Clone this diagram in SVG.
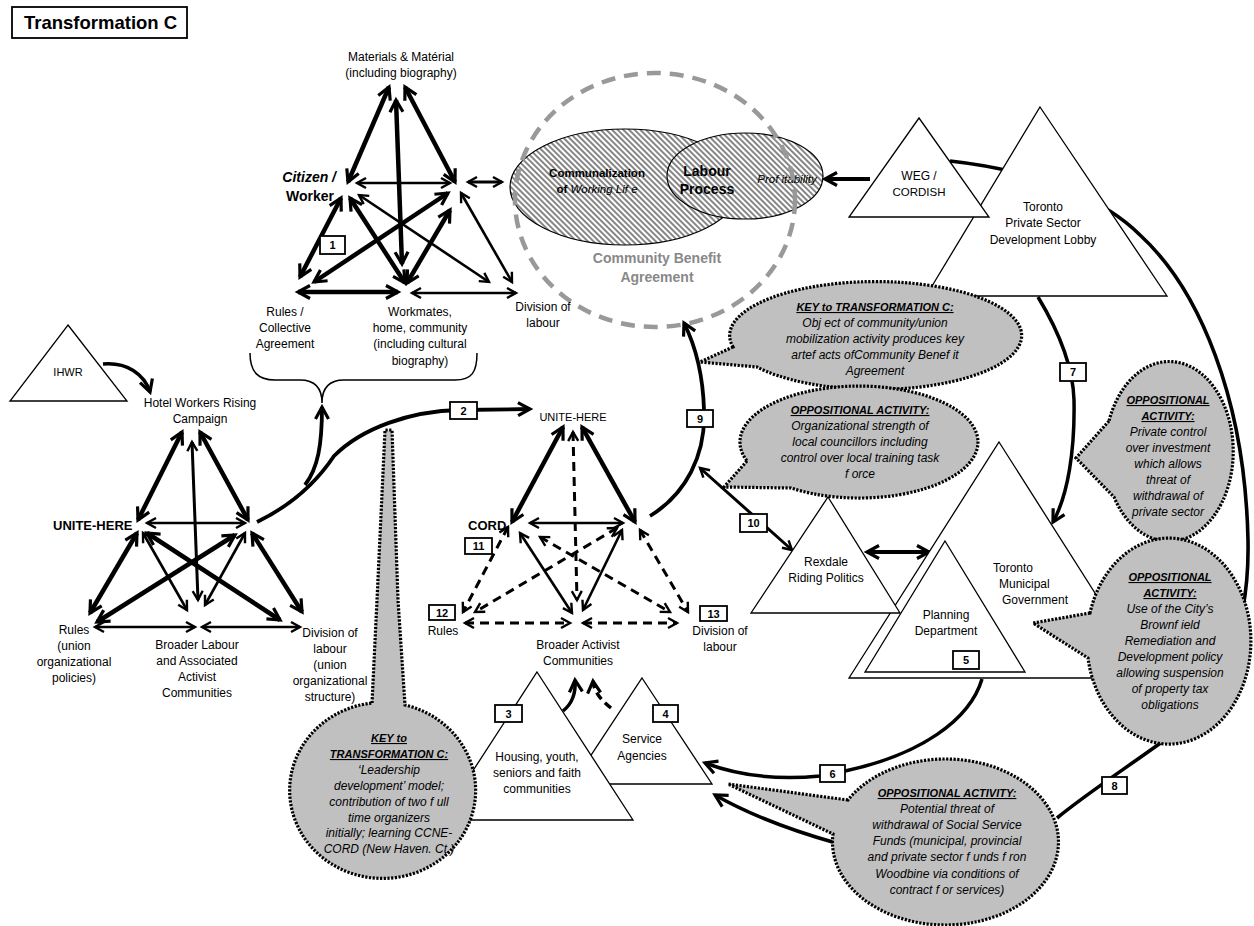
<svg xmlns="http://www.w3.org/2000/svg" width="1254" height="926" viewBox="0 0 1254 926">
<defs>
<style>
text{font-family:'Liberation Sans',Arial,sans-serif;font-size:12px;fill:#000}
.c{text-anchor:middle}
.e{text-anchor:end}
.b{font-weight:bold}
.i{font-style:italic}
.n{font-weight:normal}
.f11{font-size:11px}
.f115{font-size:11.5px}
.f13{font-size:13px}
.f14{font-size:14px}
.f18{font-size:18.5px}
.g{fill:#888}
.h{font-weight:bold;font-style:italic;text-decoration:underline;font-size:11px}
.tri{fill:#fff;stroke:#000;stroke-width:1.3}
.t{fill:none;stroke:#000;stroke-width:4.5;marker-start:url(#aT);marker-end:url(#aT)}
.m{fill:none;stroke:#000;stroke-width:2.6;marker-start:url(#aM);marker-end:url(#aM)}
.d{fill:none;stroke:#000;stroke-width:3;stroke-dasharray:9 6;marker-start:url(#aM);marker-end:url(#aM)}
.ce{fill:none;stroke:#000;stroke-width:3.8;marker-end:url(#aT)}
.cv{fill:none;stroke:#000;stroke-width:3.6}
.bub{fill:#c0c0c0;stroke:#000;stroke-width:3.2;stroke-dasharray:2.2 1.5}
.nb rect{fill:#fff;stroke:#000;stroke-width:1.8}
.nb text{font-weight:bold;font-size:11px;text-anchor:middle}
.hat{fill:url(#hatch);stroke:#000;stroke-width:1.2}
</style>
<marker id="aT" viewBox="0 0 16 16" refX="14" refY="8" markerWidth="16" markerHeight="16" markerUnits="userSpaceOnUse" orient="auto-start-reverse" overflow="visible">
<path d="M2,1.5 L14,8 L2,14.5" fill="none" stroke="#000" stroke-width="3.2"/>
</marker>
<marker id="aM" viewBox="0 0 12 12" refX="10.5" refY="6" markerWidth="12" markerHeight="12" markerUnits="userSpaceOnUse" orient="auto-start-reverse" overflow="visible">
<path d="M1.5,1 L10.5,6 L1.5,11" fill="none" stroke="#000" stroke-width="2.4"/>
</marker>
<pattern id="hatch" width="4" height="4" patternUnits="userSpaceOnUse" patternTransform="rotate(-45)">
<rect width="4" height="4" fill="#fff"/>
<line x1="1" y1="0" x2="1" y2="4" stroke="#222" stroke-width="1.1"/>
</pattern>
</defs>
<rect width="1254" height="926" fill="#fff"/>

<g id="title">
<rect x="12" y="7" width="175" height="31" fill="#fff" stroke="#000" stroke-width="1.8"/>
<text x="24" y="29" class="b f18">Transformation C</text>
</g>

<g id="cba">
<ellipse class="hat" cx="625" cy="187" rx="115" ry="58"/>
<ellipse class="hat" cx="745" cy="176" rx="78" ry="43"/>
<text x="597" y="177" class="c b f115">Communalization</text>
<text x="597" y="193" class="c b f115">of <tspan class="i n">Working Lif e</tspan></text>
<text x="707" y="176" class="c b f14">Labour</text>
<text x="707" y="194" class="c b f14">Process</text>
<text x="787" y="183" class="c i f115">Prof itability</text>
<ellipse cx="655" cy="200" rx="140" ry="127" fill="none" stroke="#999" stroke-width="4.5" stroke-dasharray="14 9"/>
<text x="657" y="263" class="c b f14 g">Community Benefit</text>
<text x="657" y="282" class="c b f14 g">Agreement</text>
</g>

<g id="connectors">
<path class="t" d="M389,87 L348,182"/>
<path class="t" d="M405,87 L455,182"/>
<path class="t" d="M396,100 L402,264"/>
<path class="m" d="M357,183 L450,183"/>
<path class="t" d="M341,198 L300,277"/>
<path class="t" d="M350,198 L405,283"/>
<path class="m" d="M359,195 L489,282"/>
<path class="t" d="M448,193 L314,282"/>
<path class="t" d="M450,210 L407,283"/>
<path class="m" d="M461,193 L512,282"/>
<path class="t" d="M298,292 L398,292"/>
<path class="m" d="M412,293 L516,293"/>
<path class="m" d="M468,182 L502,182" style="stroke-width:3"/>
<path class="t" d="M182,432 L138,520"/>
<path class="t" d="M200,432 L248,520"/>
<path class="m" d="M192,442 L198,600" style="stroke-width:3"/>
<path class="m" d="M147,523 L245,523"/>
<path class="t" d="M137,533 L90,613"/>
<path class="m" d="M143,533 L187,610"/>
<path class="t" d="M147,533 L280,620"/>
<path class="t" d="M235,535 L97,622"/>
<path class="m" d="M245,533 L205,605"/>
<path class="t" d="M252,533 L302,612"/>
<path class="m" d="M95,627 L195,627"/>
<path class="m" d="M202,627 L300,627"/>
<path class="t" d="M563,427 L512,522"/>
<path class="t" d="M582,427 L635,522"/>
<path class="d" d="M573,432 L577,600"/>
<path class="m" d="M530,523 L623,523"/>
<path class="d" d="M508,527 L463,612"/>
<path class="m" d="M520,533 L572,613"/>
<path class="d" d="M540,537 L670,612"/>
<path class="d" d="M617,528 L475,612"/>
<path class="m" d="M622,530 L583,610"/>
<path class="d" d="M640,530 L688,612"/>
<path class="d" d="M465,623 L570,623"/>
<path class="d" d="M583,623 L677,623"/>
<path class="ce" d="M103,364 C127,362 144,374 150,392" style="stroke-width:3.5"/>
<path class="ce" d="M257,522 C292,505 318,480 334,456 C362,428 410,411 460,410 L530,409"/>
<path class="ce" d="M305,485 C318,468 322,445 322,407"/>
<path class="ce" d="M650,516 C686,494 706,455 704,410 C703,375 696,347 684,323"/>
<path class="m" d="M700,468 L792,550" style="stroke-width:3"/>
<path class="t" d="M867,552 L929,552" style="stroke-width:4"/>
<path class="ce" d="M1038,297 C1058,330 1073,365 1074,400 C1075,450 1068,495 1053,522" style="stroke-width:3.5"/>
<path class="cv" d="M950,161 C1050,172 1110,205 1140,235 C1200,290 1245,400 1248,540 C1250,640 1215,705 1162,742 C1120,772 1085,795 1057,818"/>
<path class="ce" d="M982,679 C970,720 920,755 845,771 L820,776 C780,780 740,776 705,763" style="stroke-width:3.5"/>
<path class="ce" d="M836,843 C790,830 750,815 715,795" style="stroke-width:3.5"/>
<path class="ce" d="M563,711 C573,703 576,693 575,680" style="stroke-width:3.5"/>
<path class="ce" d="M611,708 C601,700 594,692 593,681" style="stroke-width:3.5;stroke-dasharray:8 5"/>
<path class="ce" d="M870,179 L825,179" style="stroke-width:4"/>
<path d="M250,353 C250,372 258,380 275,380 L300,380 C315,380 322,388 322,403 C322,388 329,380 344,380 L455,380 C472,380 477,372 477,353" fill="none" stroke="#000" stroke-width="1.5"/>
</g>

<g id="t1-labels">
<text x="401" y="61" class="c">Materials &amp; Matérial</text>
<text x="401" y="77" class="c">(including biography)</text>
<text x="336" y="182" class="e b i f14">Citizen /</text>
<text x="334" y="201" class="e b f14">Worker</text>
<text x="285" y="316" class="c">Rules /</text>
<text x="285" y="332" class="c">Collective</text>
<text x="285" y="348" class="c">Agreement</text>
<text x="420" y="316" class="c">Workmates,</text>
<text x="420" y="332" class="c">home, community</text>
<text x="420" y="348" class="c">(including cultural</text>
<text x="420" y="365" class="c">biography)</text>
<text x="543" y="311" class="c">Division of</text>
<text x="543" y="327" class="c">labour</text>
</g>

<g id="ihwr">
<polygon class="tri" points="68,325 127,401 10,401"/>
<text x="68" y="376" class="c f11">IHWR</text>
</g>

<g id="left-labels">
<text x="200" y="407" class="c">Hotel Workers Rising</text>
<text x="200" y="423" class="c">Campaign</text>
<text x="53" y="530" class="b f13">UNITE-HERE</text>
<text x="74" y="634" class="c">Rules</text>
<text x="74" y="650" class="c">(union</text>
<text x="74" y="666" class="c">organizational</text>
<text x="74" y="682" class="c">policies)</text>
<text x="197" y="649" class="c">Broader Labour</text>
<text x="197" y="665" class="c">and Associated</text>
<text x="197" y="681" class="c">Activist</text>
<text x="197" y="697" class="c">Communities</text>
<text x="330" y="637" class="c">Division of</text>
<text x="330" y="653" class="c">labour</text>
<text x="330" y="669" class="c">(union</text>
<text x="330" y="685" class="c">organizational</text>
<text x="330" y="701" class="c">structure)</text>
</g>

<g id="cord-labels">
<text x="573" y="421" class="c f11">UNITE-HERE</text>
<text x="468" y="530" class="b f13">CORD</text>
<text x="443" y="635" class="c">Rules</text>
<text x="578" y="649" class="c">Broader Activist</text>
<text x="578" y="665" class="c">Communities</text>
<text x="720" y="635" class="c">Division of</text>
<text x="720" y="651" class="c">labour</text>
</g>

<g id="lobby">
<polygon class="tri" points="1040,107 1167,296 926,296"/>
<text x="1043" y="211" class="c">Toronto</text>
<text x="1043" y="227" class="c">Private Sector</text>
<text x="1043" y="244" class="c">Development Lobby</text>
</g>
<g id="weg">
<polygon class="tri" points="919,118 989,217 849,217"/>
<text x="919" y="180" class="c">WEG /</text>
<text x="919" y="196" class="c f115">CORDISH</text>
</g>

<g id="municipal">
<polygon class="tri" points="999,442 1149,678 849,678"/>
<text x="993" y="572">Toronto</text>
<text x="999" y="588">Municipal</text>
<text x="1002" y="604">Government</text>
</g>
<g id="planning">
<polygon class="tri" points="945,541 1025,672 865,672"/>
<text x="946" y="619" class="c">Planning</text>
<text x="946" y="635" class="c">Department</text>
</g>
<g id="rexdale">
<polygon class="tri" points="828,497 900,613 751,613"/>
<text x="826" y="566" class="c">Rexdale</text>
<text x="826" y="582" class="c">Riding Politics</text>
</g>

<g id="service">
<polygon class="tri" points="642,678 712,784 572,784"/>
<text x="642" y="743" class="c">Service</text>
<text x="642" y="760" class="c">Agencies</text>
</g>
<g id="housing">
<polygon class="tri" points="537,672 633,820 441,820"/>
<text x="537" y="761" class="c">Housing, youth,</text>
<text x="537" y="777" class="c">seniors and faith</text>
<text x="537" y="793" class="c">communities</text>
</g>

<g id="bubble-key-top">
<path class="bub" d="M733,347 L700,362 L757,367 A146 54 0 1 0 733,347 Z"/>
<text x="875" y="311" class="c h">KEY to TRANSFORMATION C:</text>
<text x="875" y="327" class="c i">Obj ect of community/union</text>
<text x="875" y="343" class="c i">mobilization activity produces key</text>
<text x="875" y="359" class="c i">artef acts ofCommunity Benef it</text>
<text x="875" y="375" class="c i">Agreement</text>
</g>
<g id="bubble-councillors">
<path class="bub" d="M747,461 L724,487 L791,488 A119 56 0 1 0 747,461 Z"/>
<text x="860" y="414" class="c h">OPPOSITIONAL ACTIVITY:</text>
<text x="860" y="430" class="c i">Organizational strength of</text>
<text x="860" y="446" class="c i">local councillors including</text>
<text x="860" y="462" class="c i">control over local training task</text>
<text x="860" y="478" class="c i">f orce</text>
</g>
<g id="bubble-private">
<path class="bub" d="M1109,421 L1076,458 L1114,497 A64 90 0 1 0 1109,421 Z"/>
<text x="1168" y="404" class="c h">OPPOSITIONAL</text>
<text x="1168" y="420" class="c h">ACTIVITY:</text>
<text x="1168" y="436" class="c i">Private control</text>
<text x="1168" y="452" class="c i">over investment</text>
<text x="1168" y="468" class="c i">which allows</text>
<text x="1168" y="484" class="c i">threat of</text>
<text x="1168" y="500" class="c i">withdrawal of</text>
<text x="1168" y="516" class="c i">private sector</text>
</g>
<g id="bubble-brownfield">
<path class="bub" d="M1090,613 L1033,623 L1088,658 A82 103 0 1 0 1090,613 Z"/>
<text x="1170" y="581" class="c h">OPPOSITIONAL</text>
<text x="1170" y="597" class="c h">ACTIVITY:</text>
<text x="1170" y="613" class="c i">Use of the City’s</text>
<text x="1170" y="629" class="c i">Brownf ield</text>
<text x="1170" y="645" class="c i">Remediation and</text>
<text x="1170" y="661" class="c i">Development policy</text>
<text x="1170" y="677" class="c i">allowing suspension</text>
<text x="1170" y="693" class="c i">of property tax</text>
<text x="1170" y="709" class="c i">obligations</text>
</g>
<g id="bubble-funds">
<path class="bub" d="M848,800 L728,784 L833,834 A113 83 0 1 0 848,800 Z"/>
<text x="947" y="797" class="c h">OPPOSITIONAL ACTIVITY:</text>
<text x="947" y="813" class="c i">Potential threat of</text>
<text x="947" y="829" class="c i">withdrawal of Social Service</text>
<text x="947" y="845" class="c i">Funds (municipal, provincial</text>
<text x="947" y="861" class="c i">and private sector f unds f ron</text>
<text x="947" y="878" class="c i">Woodbine via conditions of</text>
<text x="947" y="894" class="c i">contract f or services)</text>
</g>
<g id="bubble-key-left">
<path class="bub" d="M372,703 L377,600 L385,430 L392,430 L398,600 L405,705 A93 88 0 1 1 372,703 Z"/>
<text x="389" y="742" class="c h">KEY to</text>
<text x="389" y="758" class="c h">TRANSFORMATION C:</text>
<text x="389" y="774" class="c i">‘Leadership</text>
<text x="389" y="790" class="c i">development’ model;</text>
<text x="389" y="806" class="c i">contribution of two f ull</text>
<text x="389" y="822" class="c i">time organizers</text>
<text x="389" y="837" class="c i">initially; learning CCNE-</text>
<text x="389" y="853" class="c i">CORD (New Haven. Ct.)</text>
</g>

<g id="n1" class="nb"><rect x="320" y="236" width="25" height="18"/><text x="332.5" y="249">1</text></g>
<g id="n2" class="nb"><rect x="450" y="402" width="27" height="17"/><text x="463.5" y="414.5">2</text></g>
<g id="n3" class="nb"><rect x="495" y="705" width="27" height="17"/><text x="508.5" y="717.5">3</text></g>
<g id="n4" class="nb"><rect x="653" y="705" width="25" height="17"/><text x="665.5" y="717.5">4</text></g>
<g id="n5" class="nb"><rect x="953" y="651" width="26" height="18"/><text x="966" y="664">5</text></g>
<g id="n6" class="nb"><rect x="820" y="765" width="25" height="17"/><text x="832.5" y="777.5">6</text></g>
<g id="n7" class="nb"><rect x="1060" y="363" width="26" height="18"/><text x="1073" y="376">7</text></g>
<g id="n8" class="nb"><rect x="1102" y="777" width="25" height="17"/><text x="1114.5" y="789.5">8</text></g>
<g id="n9" class="nb"><rect x="687" y="410" width="26" height="17"/><text x="700" y="422.5">9</text></g>
<g id="n10" class="nb"><rect x="740" y="514" width="27" height="18"/><text x="753.5" y="527">10</text></g>
<g id="n11" class="nb"><rect x="465" y="538" width="27" height="16"/><text x="478.5" y="550">11</text></g>
<g id="n12" class="nb"><rect x="429" y="605" width="26" height="15"/><text x="442" y="616.5">12</text></g>
<g id="n13" class="nb"><rect x="700" y="606" width="27" height="15"/><text x="713.5" y="617.5">13</text></g>
</svg>
